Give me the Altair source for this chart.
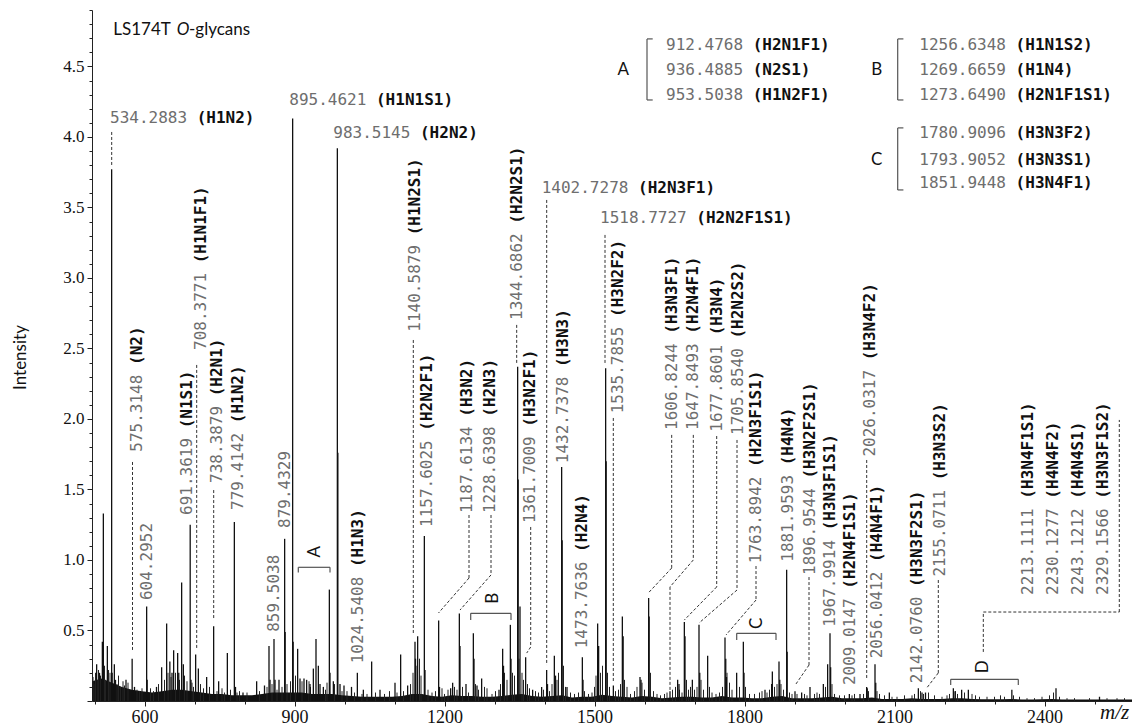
import altair as alt
import pandas as pd

# ---------------- spectrum data (m/z, intensity) ----------------
peak_mz = [504.3, 510, 515.7, 517.7, 525.7, 534.3, 535.3, 539.7, 542, 563, 575.3, 580, 604.3, 605.3,
           624, 634.3, 644.3, 650.7, 655, 658.3, 666.3, 668.5, 674.3, 677.7, 691.4, 693, 702.3, 707.7,
           724.3, 738.3, 748.3, 765.7, 779.7, 782, 797, 824.3, 840, 849, 851, 859, 861, 869, 880.3,
           881.3, 896.3, 897.3, 906.3, 911, 919, 924.3, 931, 937.7, 943, 947.7, 951, 957.7, 969.7,
           971, 977.7, 985.7, 986.7, 991, 999, 1014, 1025.7, 1037.7, 1054.3, 1071, 1101, 1112.3,
           1126.3, 1141, 1142, 1146.3, 1159.7, 1161, 1188.3, 1190, 1212.3, 1216.3, 1229.7, 1231,
           1243, 1257.7, 1259, 1265, 1274.3, 1309, 1316.3, 1318, 1331.7, 1333, 1346.3, 1347.3, 1351,
           1362.3, 1376.3, 1394.3, 1404.3, 1406, 1419.7, 1422, 1434.3, 1435.3, 1445, 1475.7, 1477,
           1506.3, 1508.3, 1522.3, 1523.3, 1537.7, 1555.7, 1557.3, 1591, 1593, 1608.3, 1609.3, 1651,
           1666.3, 1669, 1679.7, 1681, 1695.7, 1709, 1710.5, 1726.3, 1761, 1762.5, 1764, 1784.3,
           1797.7, 1799, 1841, 1854.3, 1855.7, 1869, 1870.5, 1884.3, 1885.3, 1901, 1914.3, 1931,
           1957.7, 1966.3, 1971, 1972.3, 2009.7, 2031, 2044.3, 2045.5, 2061, 2062.5, 2089.7, 2147.7,
           2155, 2162, 2217.7, 2221, 2234.3, 2247.7, 2334.7, 2423, 2510]
peak_int = [0.26, 0.20, 0.42, 1.33, 0.39, 3.77, 0.20, 0.26, 0.15, 0.15, 0.30, 0.10, 0.67, 0.15,
            0.10, 0.24, 0.55, 0.28, 0.20, 0.36, 0.34, 0.20, 0.84, 0.26, 1.25, 0.15, 0.33, 0.23,
            0.17, 0.53, 0.14, 0.34, 1.27, 0.10, 0.06, 0.14, 0.11, 0.39, 0.15, 0.44, 0.15, 0.15, 1.15,
            0.49, 4.13, 0.42, 0.37, 0.16, 0.16, 0.15, 0.12, 0.23, 0.44, 0.25, 0.12, 0.10, 0.79,
            0.20, 0.14, 3.92, 1.76, 0.12, 0.11, 0.10, 0.20, 0.08, 0.28, 0.08, 0.13, 0.33,
            0.11, 0.42, 0.30, 0.46, 1.17, 0.22, 0.57, 0.10, 0.09, 0.13, 0.62, 0.39,
            0.12, 0.48, 0.30, 0.11, 0.16, 0.08, 0.37, 0.25, 0.54, 0.30, 2.37, 1.57, 0.67,
            0.31, 0.08, 0.10, 0.22, 0.12, 0.32, 0.18, 1.66, 1.14, 0.10, 0.31, 0.15,
            0.55, 0.39, 2.36, 1.70, 0.11, 0.60, 0.46, 0.17, 0.15, 0.73, 0.60, 0.07,
            0.15, 0.12, 0.56, 0.46, 0.15, 0.54, 0.20, 0.32, 0.45, 0.30, 0.17, 0.20,
            0.42, 0.20, 0.08, 0.12, 0.21, 0.28, 0.15, 0.93, 0.35, 0.07, 0.06, 0.10,
            0.12, 0.26, 0.48, 0.24, 0.05, 0.05, 0.10, 0.09, 0.26, 0.13, 0.06, 0.09,
            0.06, 0.06, 0.09, 0.07, 0.08, 0.08, 0.08, 0.09, 0.03]

grass_mz = [497, 499, 502, 506, 508, 512, 520, 522, 528, 531, 545, 548, 552, 557, 560, 567, 585, 590,
            595, 612, 618, 628, 640, 647, 653, 662, 670, 680, 685, 695, 698, 712, 718, 730, 745, 755,
            760, 772, 785, 790, 805, 830, 845, 855, 865, 875, 885, 892, 902, 915, 929, 932, 962, 965,
            980, 995, 1005, 1020, 1035, 1045, 1062, 1080, 1090, 1105, 1118, 1132, 1137, 1143, 1150,
            1153, 1167, 1175, 1182, 1195, 1200, 1207, 1220, 1225, 1236, 1248, 1262, 1268, 1280, 1285,
            1295, 1302, 1312, 1320, 1325, 1336, 1340, 1349, 1355, 1358, 1366, 1370, 1382, 1388, 1398,
            1410, 1415, 1425, 1428, 1438, 1442, 1452, 1460, 1468, 1480, 1488, 1495, 1500, 1503, 1512,
            1516, 1526, 1530, 1542, 1548, 1552, 1560, 1565, 1572, 1580, 1585, 1595, 1600, 1612, 1618,
            1625, 1632, 1640, 1645, 1656, 1662, 1670, 1675, 1684, 1688, 1692, 1700, 1705, 1713, 1718,
            1730, 1735, 1743, 1750, 1756, 1765, 1770, 1775, 1790, 1802, 1810, 1820, 1830, 1835, 1845,
            1850, 1860, 1865, 1873, 1878, 1890, 1895, 1905, 1920, 1925, 1940, 1945, 1950, 1962, 1975,
            1980, 1990, 2000, 2015, 2020, 2038, 2048, 2065, 2070, 2080, 2095, 2105, 2120, 2135, 2140,
            2152, 2158, 2168, 2180, 2195, 2205, 2210, 2222, 2226, 2240, 2255, 2262, 2270, 2285, 2300,
            2312, 2320, 2338, 2350, 2365, 2380, 2395, 2410, 2418, 2430, 2445, 2460, 2490, 2525, 2545,
            2560]
grass_int = [0.17, 0.12, 0.20, 0.15, 0.22, 0.18, 0.25, 0.15, 0.22, 0.20, 0.12, 0.18, 0.10, 0.14, 0.11,
             0.13, 0.08, 0.07, 0.09, 0.09, 0.07, 0.12, 0.15, 0.20, 0.17, 0.20, 0.15, 0.18, 0.14, 0.13,
             0.10, 0.12, 0.09, 0.10, 0.07, 0.09, 0.06, 0.08, 0.06, 0.07, 0.06, 0.07, 0.10, 0.12, 0.08,
             0.10, 0.12, 0.14, 0.18, 0.14, 0.14, 0.10, 0.08, 0.13, 0.12, 0.07, 0.07, 0.06, 0.05, 0.05,
             0.06, 0.05, 0.07, 0.06, 0.07, 0.12, 0.20, 0.25, 0.30, 0.18, 0.08, 0.06, 0.07, 0.09, 0.05,
             0.08, 0.10, 0.08, 0.10, 0.06, 0.12, 0.08, 0.10, 0.09, 0.05, 0.07, 0.12, 0.20, 0.15, 0.20,
             0.18, 0.30, 0.20, 0.15, 0.12, 0.09, 0.07, 0.06, 0.08, 0.07, 0.12, 0.15, 0.20, 0.25, 0.10,
             0.06, 0.05, 0.06, 0.07, 0.05, 0.06, 0.10, 0.18, 0.20, 0.25, 0.20, 0.10, 0.07, 0.08, 0.12,
             0.15, 0.10, 0.05, 0.07, 0.10, 0.13, 0.08, 0.20, 0.07, 0.05, 0.04, 0.05, 0.06, 0.08, 0.10,
             0.08, 0.06, 0.15, 0.08, 0.10, 0.08, 0.10, 0.15, 0.08, 0.10, 0.06, 0.05, 0.06, 0.10, 0.20,
             0.13, 0.08, 0.10, 0.10, 0.05, 0.05, 0.06, 0.07, 0.06, 0.08, 0.10, 0.12, 0.12, 0.08, 0.06,
             0.05, 0.05, 0.05, 0.04, 0.05, 0.06, 0.05, 0.10, 0.12, 0.05, 0.04, 0.04, 0.04, 0.05, 0.05,
             0.07, 0.07, 0.05, 0.04, 0.03, 0.03, 0.04, 0.04, 0.05, 0.07, 0.05, 0.06, 0.04, 0.03, 0.04,
             0.05, 0.07, 0.05, 0.06, 0.05, 0.04, 0.03, 0.03, 0.03, 0.04, 0.03, 0.04, 0.03, 0.02, 0.02,
             0.03, 0.04, 0.06, 0.03, 0.02, 0.02, 0.02, 0.02, 0.02, 0.02]

floor_mz = [495, 515, 535, 555, 575, 595, 615, 635, 655, 675, 695, 715, 735, 755, 775, 795, 815, 835,
            855, 875, 895, 915, 935, 955, 975, 995, 1015, 1035, 1055, 1075, 1095, 1115, 1135, 1155,
            1175, 1195, 1215, 1235, 1255, 1275, 1295, 1315, 1335, 1355, 1375, 1395, 1415, 1435, 1455,
            1475, 1495, 1515, 1535, 1555, 1575, 1595, 1615, 1635, 1655, 1675, 1695, 1715, 1735, 1755,
            1775, 1795, 1815, 1835, 1855, 1875, 1895, 1915, 1935, 1955, 1975, 1995, 2015, 2035, 2055,
            2075, 2095, 2115, 2135, 2155, 2175, 2195, 2215, 2235, 2255, 2275, 2295, 2315, 2335, 2355,
            2375, 2395, 2415, 2435, 2455, 2475, 2495, 2515, 2535, 2555, 2575]
floor_int = [0.14, 0.16, 0.13, 0.10, 0.08, 0.07, 0.06, 0.07, 0.08, 0.08, 0.07, 0.06, 0.05, 0.05, 0.04,
             0.04, 0.04, 0.05, 0.06, 0.06, 0.06, 0.06, 0.05, 0.05, 0.05, 0.04, 0.035, 0.03, 0.03, 0.03,
             0.03, 0.035, 0.05, 0.05, 0.035, 0.03, 0.04, 0.035, 0.035, 0.03, 0.03, 0.035, 0.045, 0.05,
             0.035, 0.03, 0.035, 0.04, 0.025, 0.03, 0.03, 0.045, 0.035, 0.03, 0.025, 0.035, 0.03, 0.02,
             0.025, 0.03, 0.03, 0.025, 0.025, 0.035, 0.025, 0.025, 0.02, 0.02, 0.03, 0.035, 0.02, 0.02,
             0.02, 0.025, 0.03, 0.02, 0.02, 0.02, 0.025, 0.015, 0.015, 0.015, 0.02, 0.015, 0.015, 0.015,
             0.02, 0.02, 0.015, 0.012, 0.012, 0.012, 0.015, 0.01, 0.01, 0.012, 0.015, 0.01, 0.01, 0.01,
             0.01, 0.01, 0.01, 0.01, 0.01]

# ---------------- annotations ----------------
# horizontal peak labels
hl_num = ["534.2883", "895.4621", "983.5145", "1402.7278", "1518.7727"]
hl_form = ["(H1N2)", "(H1N1S1)", "(H2N2)", "(H2N3F1)", "(H2N2F1S1)"]
hl_x = [531, 889.6, 977.6, 1394.4, 1511]
hl_y = [4.135, 4.262, 4.026, 3.640, 3.428]

# legend boxes A, B, C
lg_num = ["912.4768", "936.4885", "953.5038", "1256.6348", "1269.6659", "1273.6490",
          "1780.9096", "1793.9052", "1851.9448"]
lg_form = ["(H2N1F1)", "(N2S1)", "(H1N2F1)", "(H1N1S2)", "(H1N4)", "(H2N1F1S1)",
           "(H3N3F2)", "(H3N3S1)", "(H3N4F1)"]
lg_x = [1643, 1643, 1643, 2149.6, 2149.6, 2149.6, 2149.6, 2149.6, 2149.6]
lg_y = [4.652, 4.475, 4.298, 4.652, 4.475, 4.298, 4.031, 3.837, 3.676]
lg_letter = ["A", "B", "C"]
lg_letter_x = [1557.6, 2064.4, 2064.4]
lg_letter_y = [4.475, 4.475, 3.837]

# vertical (rotated) peak labels
rl_num = ["575.3148", "604.2952", "691.3619", "708.3771", "738.3879", "779.4142", "859.5038",
          "879.4329", "1024.5408", "1140.5879", "1157.6025", "1187.6134", "1228.6398", "1344.6862",
          "1361.7009", "1432.7378", "1473.7636", "1535.7855", "1606.8244", "1647.8493", "1677.8601",
          "1705.8540", "1763.8942", "1881.9593", "1896.9544", "1967.9914", "2009.0147", "2026.0317",
          "2056.0412", "2142.0760", "2155.0711", "2213.1111", "2230.1277", "2243.1212", "2329.1566"]
rl_form = ["(N2)", "", "(N1S1)", "(H1N1F1)", "(H2N1)", "(H1N2)", "", "", "(H1N3)", "(H1N2S1)",
           "(H2N2F1)", "(H3N2)", "(H2N3)", "(H2N2S1)", "(H3N2F1)", "(H3N3)", "(H2N4)", "(H3N2F2)",
           "(H3N3F1)", "(H2N4F1)", "(H3N4)", "(H2N2S2)", "(H2N3F1S1)", "(H4N4)", "(H3N2F2S1)",
           "(H3N3F1S1)", "(H2N4F1S1)", "(H3N4F2)", "(H4N4F1)", "(H3N3F2S1)", "(H3N3S2)",
           "(H3N4F1S1)", "(H4N4F2)", "(H4N4S1)", "(H3N3F1S2)"]
rl_x = [584.4, 604.4, 684.4, 713, 744.4, 787.6, 859, 881, 1027.6, 1141, 1164.4, 1245.6, 1291,
        1344.4, 1371, 1437.6, 1475.6, 1547.6, 1654.4, 1697.6, 1744.4, 1787.6, 1823, 1887.6, 1931,
        1971, 2011, 2051, 2064.4, 2144.4, 2191, 2367.6, 2417.6, 2467.6, 2517.6]
rl_y = [1.768, 0.716, 1.319, 2.489, 1.546, 1.355, 0.491, 1.227, 0.267, 2.619, 1.234, 1.333, 1.333,
        2.702, 1.262, 1.686, 0.374, 2.040, 1.922, 1.922, 1.910, 1.887, 0.977, 0.988, 0.894, 0.527,
        0.113, 1.733, 0.303, 0.126, 0.882, 0.752, 0.752, 0.752, 0.752]

# dashed leader lines (polylines in m/z, intensity)
leaders = [
    [(534.4, 4.035), (534.4, 3.801)],
    [(576, 1.695), (576, 0.362)],
    [(704.4, 2.383), (704.4, 0.362)],
    [(738.4, 1.496), (738.4, 0.574)],
    [(1137.6, 2.560), (1137.6, 0.468)],
    [(1249, 1.319), (1249, 0.872), (1188, 0.624)],
    [(1293, 1.319), (1293, 0.894), (1231, 0.645)],
    [(1344.4, 2.667), (1344.4, 2.390)],
    [(1372.4, 1.234), (1372.4, 0.383), (1364.4, 0.340)],
    [(1404.4, 3.553), (1404.4, 0.255)],
    [(1521, 3.305), (1521, 2.383)],
    [(1537.6, 2.007), (1537.6, 0.128)],
    [(1654.4, 1.887), (1654.4, 0.943), (1607.6, 0.766)],
    [(1697.6, 1.887), (1697.6, 1.0), (1651, 0.809), (1651, 0.064)],
    [(1744.4, 1.879), (1744.4, 0.809), (1679.6, 0.574)],
    [(1785, 1.851), (1785, 0.787), (1709, 0.553)],
    [(1823, 0.957), (1823, 0.716), (1763, 0.468)],
    [(1929, 0.879), (1929, 0.255), (1903, 0.121)],
    [(2044.4, 1.709), (2044.4, 0.149)],
    [(2187.6, 0.858), (2187.6, 0.199), (2164.4, 0.092)],
    [(2277.6, 0.348), (2277.6, 0.631), (2549.6, 0.631), (2549.6, 1.993)],
]

# solid brackets (legend and spectrum groups)
brackets = [
    [(1616.4, 4.695), (1605, 4.695), (1605, 4.262), (1616.4, 4.262)],
    [(2117.8, 4.695), (2106.4, 4.695), (2106.4, 4.262), (2117.8, 4.262)],
    [(2117.8, 4.064), (2106.4, 4.064), (2106.4, 3.624), (2117.8, 3.624)],
    [(907.6, 0.911), (907.6, 0.948), (971, 0.948), (971, 0.911)],
    [(1252.4, 0.574), (1252.4, 0.622), (1333, 0.622), (1333, 0.574)],
    [(1784.4, 0.433), (1784.4, 0.480), (1863, 0.480), (1863, 0.433)],
    [(2212.4, 0.113), (2212.4, 0.154), (2347.6, 0.154), (2347.6, 0.113)],
]
grp_letter = ["A", "B", "C", "D"]
grp_x = [941, 1297.6, 1824.4, 2277.6]
grp_y = [1.059, 0.728, 0.551, 0.243]

title_parts = ["LS174T", "O", "-glycans"]
title_x = [537.6, 664.4, 689.0]
title_y = [4.759, 4.759, 4.759]

# ---------------- chart ----------------
MONO = "DejaVu Sans Mono"
SANS = "Lato"
SERIF = "Liberation Serif"
FS = 16
CHAR_W = 0.602 * FS  # advance width of one monospace character

xscale = alt.Scale(domain=[495, 2575], nice=False, zero=False)
yscale = alt.Scale(domain=[0, 4.9], nice=False, zero=True)

x_axis = alt.Axis(
    values=list(range(500, 2501, 100)),
    labelExpr="datum.value % 300 == 0 ? datum.label : ''",
    format="d", title=None, grid=False, labelOverlap=False, labelFlush=False,
    tickSize={"condition": {"test": "datum.value % 300 == 0", "value": 5}, "value": 3},
    labelFont=SERIF, labelFontSize=18, labelColor="#111", labelPadding=2,
    domainColor="#222", tickColor="#222", domainWidth=1, tickWidth=1,
)
y_axis = alt.Axis(
    values=[round(i * 0.1, 1) for i in range(0, 50)],
    labelExpr="datum.value > 0.01 && abs(datum.value*2 - round(datum.value*2)) < 0.001 ? format(datum.value, '.1f') : ''",
    grid=False, labelOverlap=False, labelFlush=False,
    tickSize={"condition": {"test": "abs(datum.value*2 - round(datum.value*2)) < 0.001", "value": 5}, "value": 3},
    labelFont=SERIF, labelFontSize=17, labelColor="#111", labelPadding=3,
    domainColor="#222", tickColor="#222", domainWidth=1, tickWidth=1,
    title="Intensity", titleFont=SANS, titleFontSize=17, titleFontWeight="normal", titleColor="#111",
    titleX=-72, titleY=347, titleAngle=270, titleAlign="center", titleBaseline="middle",
)


def X(f):
    return alt.X(f, type="quantitative", scale=xscale, axis=x_axis)


def Y(f):
    return alt.Y(f, type="quantitative", scale=yscale, axis=y_axis)


def segs(polys):
    rows = []
    for p in polys:
        for a, b in zip(p[:-1], p[1:]):
            rows.append({"x": a[0], "y": a[1], "x2": b[0], "y2": b[1]})
    return pd.DataFrame(rows)


floor_df = pd.DataFrame({"mz": floor_mz, "inten": floor_int})
peaks_df = pd.DataFrame({"mz": peak_mz, "inten": peak_int})
grass_df = pd.DataFrame({"mz": grass_mz, "inten": grass_int})

floor = alt.Chart(floor_df).mark_area(color="#111", interpolate="linear").encode(
    x=X("mz"), y=Y("inten"))
grass = alt.Chart(grass_df).mark_rule(color="#222", strokeWidth=1).encode(
    x=X("mz"), y=Y("inten"), y2=alt.datum(0))
peaks = alt.Chart(peaks_df).mark_rule(color="#111", strokeWidth=1.3).encode(
    x=X("mz"), y=Y("inten"), y2=alt.datum(0))

lead = alt.Chart(segs(leaders)).mark_rule(color="#333", strokeWidth=1, strokeDash=[3, 2]).encode(
    x=X("x"), y=Y("y"), x2=alt.X2("x2"), y2=alt.Y2("y2"))
brk = alt.Chart(segs(brackets)).mark_rule(color="#555", strokeWidth=1.2).encode(
    x=X("x"), y=Y("y"), x2=alt.X2("x2"), y2=alt.Y2("y2"))


def label_layers(nums, forms, xs, ys, angle):
    df = pd.DataFrame({"x": xs, "y": ys, "num": nums, "form": forms,
                       "n": [len(n) for n in nums]})
    common = dict(align="left", baseline="middle", font=MONO, fontSize=FS, angle=angle)
    out = [alt.Chart(df).mark_text(color="#6e6e6e", **common).encode(
        x=X("x"), y=Y("y"), text="num")]
    for n in sorted(set(df["n"])):
        sub = df[(df["n"] == n) & (df["form"] != "")]
        if len(sub) == 0:
            continue
        out.append(alt.Chart(sub).mark_text(color="#111", fontWeight="bold",
                                             dx=(n + 1) * CHAR_W, **common).encode(
            x=X("x"), y=Y("y"), text="form"))
    return out


layers = [floor, grass, peaks, lead, brk]
layers += label_layers(hl_num, hl_form, hl_x, hl_y, 0)
layers += label_layers(lg_num, lg_form, lg_x, lg_y, 0)
layers += label_layers(rl_num, rl_form, rl_x, rl_y, 270)

lg_letters = alt.Chart(pd.DataFrame({"x": lg_letter_x, "y": lg_letter_y, "t": lg_letter})).mark_text(
    align="center", baseline="middle", font=SANS, fontSize=17, color="#111").encode(
    x=X("x"), y=Y("y"), text="t")
grp_letters = alt.Chart(pd.DataFrame({"x": grp_x, "y": grp_y, "t": grp_letter})).mark_text(
    align="center", baseline="middle", font=SANS, fontSize=17, color="#111", angle=270).encode(
    x=X("x"), y=Y("y"), text="t")

tdf = pd.DataFrame({"x": title_x, "y": title_y, "t": title_parts})
title_norm = alt.Chart(tdf[tdf["t"] != "O"]).mark_text(
    align="left", baseline="middle", font=SANS, fontSize=17, color="#111").encode(
    x=X("x"), y=Y("y"), text="t")
title_ital = alt.Chart(tdf[tdf["t"] == "O"]).mark_text(
    align="left", baseline="middle", font=SANS, fontSize=17, color="#111", fontStyle="italic").encode(
    x=X("x"), y=Y("y"), text="t")

mz_label = alt.Chart(pd.DataFrame({"x": [2511], "y": [-0.085], "t": ["m/z"]})).mark_text(
    align="left", baseline="middle", font=SERIF, fontSize=21, fontStyle="italic", color="#111").encode(
    x=X("x"), y=Y("y"), text="t")

layers += [lg_letters, grp_letters, title_norm, title_ital, mz_label]

chart = alt.layer(*layers).properties(
    width=1040, height=691,
    padding={"left": 84, "top": 2, "right": 0, "bottom": 22},
    autosize=alt.AutoSizeParams(type="none"),
).configure_view(strokeWidth=0)

chart.save("out.html", embed_options={"renderer": "svg", "actions": False})
